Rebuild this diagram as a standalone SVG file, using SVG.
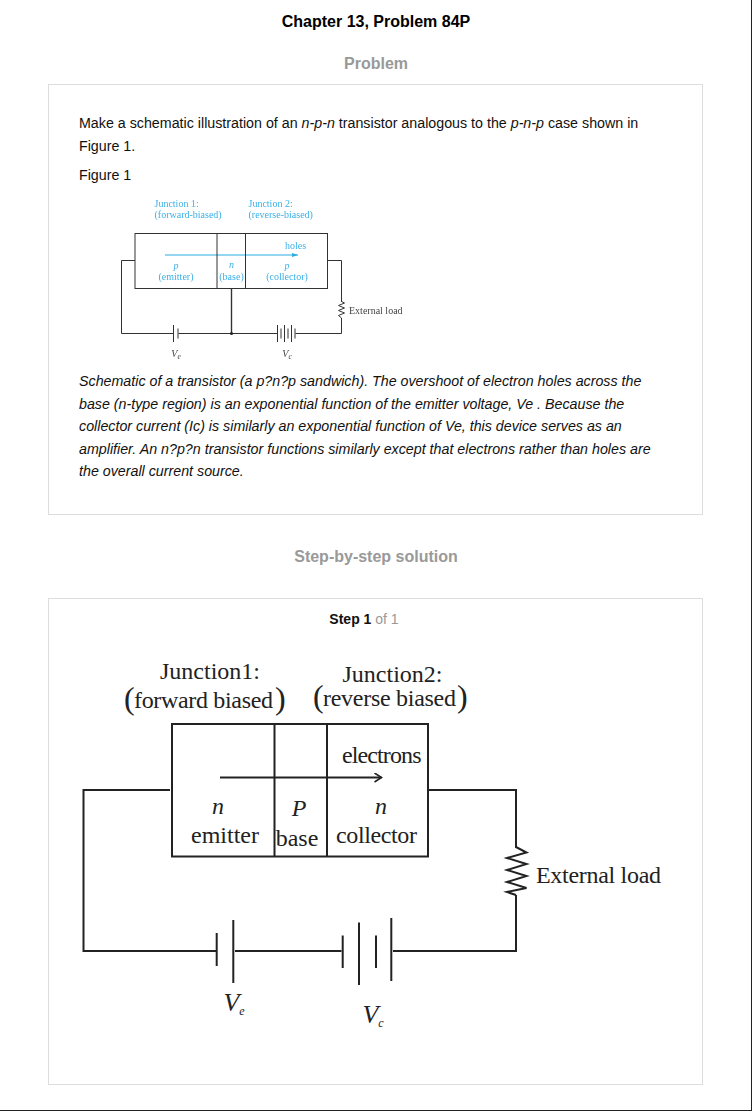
<svg xmlns="http://www.w3.org/2000/svg" width="752" height="1112" viewBox="0 0 752 1112">
<style>
text{font-family:"Liberation Sans",Arial,sans-serif;}
.h{font-weight:bold;font-size:16px;text-anchor:middle;fill:#999;}
.b{font-size:14.25px;fill:#111;}
.i{font-style:italic;}
.card{fill:#fff;stroke:#ddd;stroke-width:1;}
.s text{font-family:"Liberation Serif",serif;font-size:10px;}
.sb text{fill:#3bb0e6;}
.sk{fill:#444;}
.w1{fill:none;stroke:#333;stroke-width:1;}
.w2{fill:none;stroke:#222;stroke-width:2;}
.l text{font-family:"Liberation Serif",serif;font-size:24px;fill:#222;}
.m{text-anchor:middle;}
</style>
<defs>
<filter id="soft" x="-5%" y="-5%" width="110%" height="110%"><feGaussianBlur stdDeviation="0.35"/></filter>
<marker id="a1" markerWidth="7" markerHeight="6" refX="6" refY="3" orient="auto"><path d="M0,1 L6,3 L0,5 Z" fill="#29abe2"/></marker>
<marker id="a2" markerWidth="12" markerHeight="12" refX="10" refY="5" orient="auto" markerUnits="userSpaceOnUse"><path d="M3,0.5 L10,5 L3,9.5" fill="none" stroke="#222" stroke-width="1.6"/></marker>
</defs>
<rect width="752" height="1112" fill="#fff"/>
<path d="M751.5,0V1110.5M0,1110.5H752" fill="none" stroke="#222" stroke-width="1"/>
<text x="376" y="27" class="h" style="fill:#000;">Chapter 13, Problem 84P</text>
<text x="376" y="69" class="h">Problem</text>
<rect class="card" x="48.5" y="84.5" width="654" height="430"/>
<g id="problem-text">
<text x="79" y="128" class="b">Make a schematic illustration of an <tspan class="i">n-p-n</tspan> transistor analogous to the <tspan class="i">p-n-p</tspan> case shown in</text>
<text x="79" y="151" class="b">Figure 1.</text>
<text x="79" y="180" class="b">Figure 1</text>
</g>
<g id="small-figure" class="s" filter="url(#soft)">
<g id="small-connectors">
<path class="w1" d="M135,260.500H121.500V333.500H173.500M178.500,333.500H277.500M295.500,333.500H341.500V318M341.500,302V260.500H327.500"/>
<path class="w1" style="stroke-width:1.4" d="M231.500,289V333.500"/>
<circle cx="231.500" cy="333.500" r="1.600" fill="#222"/>
<path class="w1" d="M341.500,301.500L344.500,303L338.500,305.500L344.500,308L338.500,310.500L344.500,313L338.500,315.500L341.500,318"/>
<path class="w1" d="M173.500,325V342M178,328.500V338.500M277.500,325V342M281,328.500V338.500M284.500,325V342M288,328.500V338.500M291.500,325V342M295,328.500V338.500"/>
<path d="M165,255H298" fill="none" stroke="#29abe2" stroke-width="1" marker-end="url(#a1)"/>
</g>
<g id="small-transistor"><rect class="w1" x="135" y="233.500" width="192.500" height="55"/><path class="w1" d="M217,233.500V288.500M245.500,233.500V288.500"/></g>
<g class="sb">
<text x="154.500" y="207">Junction 1:</text><text x="154.500" y="218">(forward-biased)</text>
<text x="248.500" y="207">Junction 2:</text><text x="248.500" y="218">(reverse-biased)</text>
<text x="176" y="268.500" class="m i">p</text><text x="176" y="280" class="m">(emitter)</text>
<text x="231.500" y="268" class="m i">n</text><text x="231.500" y="280" class="m">(base)</text>
<text x="287" y="268.500" class="m i">p</text><text x="287" y="280" class="m">(collector)</text>
<text x="295.500" y="249" class="m">holes</text>
</g>
<g>
<text x="349" y="314" class="sk">External load</text>
<text x="176" y="357" class="sk i m">V<tspan font-size="7.500" dy="1.500">e</tspan></text>
<text x="287" y="357" class="sk i m">V<tspan font-size="7.500" dy="1.500">c</tspan></text>
</g>
</g>
<g id="caption" class="b i">
<text x="79" y="386">Schematic of a transistor (a p?n?p sandwich). The overshoot of electron holes across the</text>
<text x="79" y="409">base (n-type region) is an exponential function of the emitter voltage, Ve . Because the</text>
<text x="79" y="431">collector current (Ic) is similarly an exponential function of Ve, this device serves as an</text>
<text x="79" y="454">amplifier. An n?p?n transistor functions similarly except that electrons rather than holes are</text>
<text x="79" y="476">the overall current source.</text>
</g>
<text x="376" y="562" class="h">Step-by-step solution</text>
<rect class="card" x="48.500" y="598.500" width="654" height="486"/>
<text x="364" y="624" font-size="14" text-anchor="middle" fill="#999"><tspan font-weight="bold" fill="#111">Step 1</tspan> of 1</text>
<g id="connectors">
<path class="w2" d="M170,790H83.500V951H216.500M235,951H341.500M393,951H516V895M516,848V790H429"/>
<path class="w2" d="M516,847L526.500,852.500L507,858L526.500,864L507,870L526.500,876L507,882L526.500,888L507,892L516,895"/>
<path class="w2" d="M220,777.500H381.500" marker-end="url(#a2)"/>
</g>
<g id="battery-ve"><path class="w2" d="M216.700,933V966M233.300,920V983"/></g>
<g id="battery-vc"><path class="w2" d="M342.700,935.500V968M359,922.500V985M376,935.500V968M391.300,918V981"/></g>
<g id="transistor"><rect class="w2" x="172" y="724" width="256" height="132.500"/><path class="w2" d="M274.500,724V856.500M327,724V856.500"/></g>
<g id="labels" class="l">
<text x="210" y="679" class="m">Junction1:</text>
<text x="392.500" y="682" class="m">Junction2:</text>
<text x="124" y="709" style="font-size:32px">(</text>
<text x="134" y="708" textLength="139">forward biased</text>
<text x="275" y="709" style="font-size:32px">)</text>
<text x="313" y="707" style="font-size:32px">(</text>
<text x="323" y="706" textLength="133">reverse biased</text>
<text x="457" y="707" style="font-size:32px">)</text>
<text x="342" y="763" textLength="79.500">electrons</text>
<text x="218" y="814" class="m i">n</text>
<text x="225" y="843" class="m">emitter</text>
<text x="299" y="816" class="m i">P</text>
<text x="297" y="846" class="m">base</text>
<text x="381" y="814" class="m i">n</text>
<text x="336" y="843" textLength="81">collector</text>
<text x="536" y="883" textLength="125">External load</text>
<text x="234" y="1011" class="m i" style="font-size:26px">V<tspan style="font-size:12px" dy="4">e</tspan></text>
<text x="373" y="1023" class="m i" style="font-size:26px">V<tspan style="font-size:12px" dy="4">c</tspan></text>
</g>
</svg>
